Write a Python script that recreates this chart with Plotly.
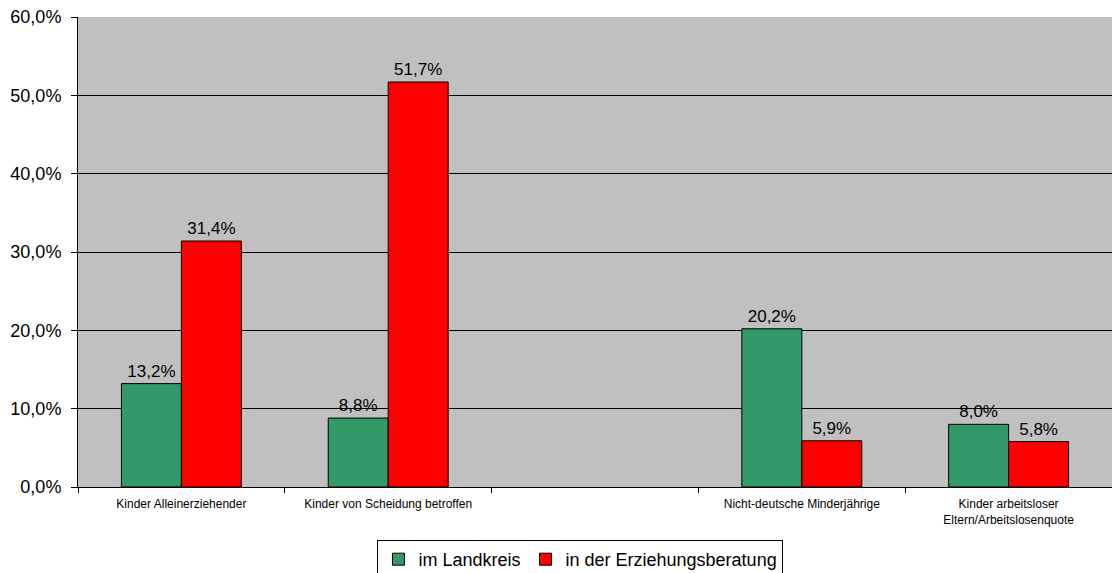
import plotly.graph_objects as go

categories = ["Kinder Alleinerziehender", "Kinder von Scheidung betroffen", " ",
              "Nicht-deutsche Minderjährige", "Kinder arbeitsloser<br>Eltern/Arbeitslosenquote"]
landkreis = [13.2, 8.8, None, 20.2, 8.0]
beratung = [31.4, 51.7, None, 5.9, 5.8]
series_names = ["im Landkreis", "in der Erziehungsberatung"]
y_ticks = [0, 10, 20, 30, 40, 50, 60]
y_tick_labels = ["0,0%", "10,0%", "20,0%", "30,0%", "40,0%", "50,0%", "60,0%"]

fig = go.Figure()
for name, vals, col in [(series_names[0], landkreis, "#339966"), (series_names[1], beratung, "#FF0000")]:
    fig.add_trace(go.Bar(
        x=categories, y=vals, name=name,
        marker=dict(color=col, line=dict(color="black", width=1)),
        texttemplate="%{y:.1f}%", textposition="outside",
        textfont=dict(size=17, color="black", family="Liberation Sans, Arial"),
        cliponaxis=False,
    ))

fig.update_layout(
    width=1112, height=573,
    margin=dict(l=78, r=0, t=17, b=86),
    paper_bgcolor="white", plot_bgcolor="#C0C0C0",
    barmode="group", bargap=0.42, bargroupgap=0,
    separators=",.",
    font=dict(family="Liberation Sans, Arial", color="black"),
    showlegend=True,
    legend=dict(orientation="h", x=0.522, xanchor="center", xref="container",
                y=1 - 540 / 573, yanchor="top", yref="container",
                bordercolor="black", borderwidth=1, bgcolor="white",
                font=dict(size=18, color="black"), itemwidth=30, traceorder="normal",
                tracegroupgap=0),
    xaxis=dict(type="category", tickson="boundaries", ticks="outside", ticklen=5,
               tickcolor="black", showline=True, linecolor="black",
               ticklabelstandoff=6,
               tickfont=dict(size=12, color="black"), showgrid=False),
    yaxis=dict(range=[0, 60], tickvals=y_ticks, ticktext=y_tick_labels,
               ticks="outside", ticklen=6, tickcolor="black", showline=True, linecolor="black",
               ticklabelstandoff=6,
               showgrid=True, gridcolor="black", gridwidth=1, zeroline=False,
               tickfont=dict(size=18, color="black")),
)

fig.write_html("out.html")
